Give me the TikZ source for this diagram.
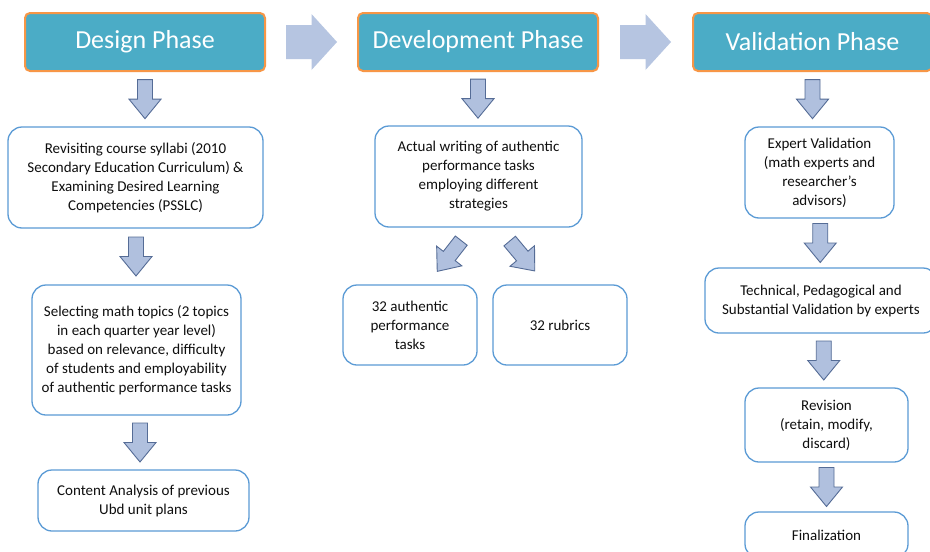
\documentclass[tikz,border=0pt]{standalone}
\usepackage{fontspec}
\setmainfont{Carlito}
\usetikzlibrary{calc}
\definecolor{tealF}{RGB}{75,172,198}
\definecolor{orangeB}{RGB}{247,150,70}
\definecolor{boxB}{RGB}{91,155,213}
\definecolor{txt}{RGB}{15,15,15}
\definecolor{arrF}{RGB}{176,192,222}
\definecolor{arrB}{RGB}{85,108,150}
\definecolor{rarrF}{RGB}{182,197,225}
\tikzset{
  hdr/.style={draw=orangeB, line width=2pt, fill=tealF, rounded corners=5pt, text=white,
    font=\fontsize{26}{30}\selectfont, minimum width=240pt, minimum height=58pt, inner sep=0pt},
  box/.style={draw=boxB, line width=1.3pt, rounded corners=14pt, fill=white, align=center,
    text=txt, font=\fontsize{15}{19}\selectfont, inner sep=0pt},
  blockarrow/.style={draw=arrB, line width=0.9pt, fill=arrF, line join=miter},
  darrow/.pic={\draw[blockarrow] (-7.5,-19.5) -- (7.5,-19.5) -- (7.5,0) -- (16,0) -- (0,19.5) -- (-16,0) -- (-7.5,0) -- cycle;},
  rarrow/.pic={\fill[rarrF] (-25.5,-17) -- (0,-17) -- (0,-28) -- (25.5,0) -- (0,28) -- (0,17) -- (-25.5,17) -- cycle;},
}
\begin{document}
\begin{tikzpicture}[x=1pt,y=-1pt]
\useasboundingbox (0,0) rectangle (930,552);
\clip (0,0) rectangle (930,552);
\fill[white] (0,0) rectangle (930,552);

% headers
\node[hdr] (h1) at (145,42) {Design Phase};
\node[hdr] (h2) at (478,42) {Development Phase};
\node[hdr, minimum width=239pt] (h3) at (812.5,42) {Validation Phase};

% design column
\node[box, minimum width=255pt, minimum height=101pt] (d1) at (135.5,177.5)
  {Revisiting course syllabi (2010\\Secondary Education Curriculum) \&\\Examining Desired Learning\\Competencies (PSSLC)};
\node[box, minimum width=209pt, minimum height=130pt] (d2) at (136.5,350)
  {Selecting math topics (2 topics\\in each quarter year level)\\based on relevance, difficulty\\of students and employability\\of authentic performance tasks};
\node[box, minimum width=211pt, minimum height=61pt] (d3) at (143.5,500.5)
  {Content Analysis of previous\\Ubd unit plans};

% development column
\node[box, minimum width=207pt, minimum height=101pt] (v0) at (478.5,176.5)
  {Actual writing of authentic\\performance tasks\\employing different\\strategies};
\node[box, minimum width=134pt, minimum height=80pt] (au) at (410,325)
  {32 authentic\\performance\\tasks};
\node[box, minimum width=134pt, minimum height=80pt] (ru) at (560,325)
  {32 rubrics};

% validation column
\node[box, minimum width=149pt, minimum height=91pt] (e1) at (819.5,172.5)
  {Expert Validation\\(math experts and\\researcher’s\\advisors)};
\node[box, minimum width=232pt, minimum height=65pt] (e2) at (821,300.5)
  {Technical, Pedagogical and\\Substantial Validation by experts};
\node[box, minimum width=163pt, minimum height=74pt] (e3) at (826.5,425)
  {Revision\\(retain, modify,\\discard)};
\node[box, minimum width=163pt, minimum height=46pt] (e4) at (826.5,535)
  {Finalization};

% horizontal block arrows
\pic at ($(h1.east)!.5!(h2.west)$) {rarrow};
\pic at ($(h2.east)!.5!(h3.west)$) {rarrow};

% vertical block arrows
\coordinate (m1) at ($(h1.south)!.5!(d1.north)$);
\coordinate (m2) at ($(h2.south)!.5!(v0.north)$);
\coordinate (m3) at ($(h3.south)!.5!(e1.north)$);
\pic at (h1.south |- m1) {darrow};
\pic at (h2.south |- m2) {darrow};
\pic at (h3.south |- m3) {darrow};
\pic at ($(d1.south)!.5!(d2.north)$) {darrow};
\pic at ($(d2.south)!.5!(d3.north)$) {darrow};
\pic at ($(e1.south)!.5!(e2.north)$) {darrow};
\pic at ($(e2.south)!.5!(e3.north)$) {darrow};
\pic at ($(e3.south)!.5!(e4.north)$) {darrow};

% diagonal block arrows
\pic[rotate=-38] at ($(v0.south)!.5!(au.north)+(5,0)$) {darrow};
\pic[rotate=40] at ($(v0.south)!.5!(ru.north)+(3,0)$) {darrow};
\end{tikzpicture}
\end{document}
